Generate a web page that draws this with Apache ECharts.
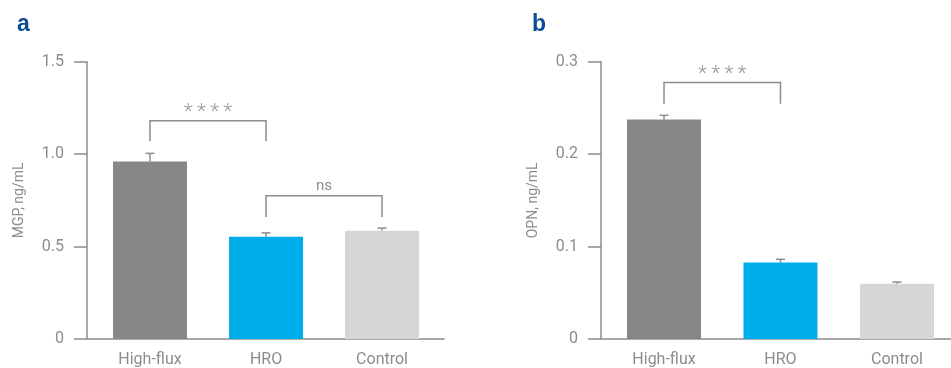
<!DOCTYPE html>
<html>
<head>
<meta charset="utf-8">
<script src="https://cdn.jsdelivr.net/npm/echarts@6/dist/echarts.min.js"></script>
<style>html,body{margin:0;padding:0;background:#fff}#c{width:951px;height:368px}</style>
</head>
<body>
<div id="c"></div>
<script>
var categories = ['High-flux', 'HRO', 'Control'];
var barColors = ['#888689', '#00adeb', '#d7d6d7'];
// panel a: MGP
var mgpValues = [0.96, 0.553, 0.585];
var mgpErrTop = [1.004, 0.574, 0.600];
var mgpTicks = [0, 0.5, 1.0, 1.5];
// brackets: [fromCat, toCat, barY, legY, label]
var mgpBrackets = [[0, 1, 1.18, 1.07, '*\u2009*\u2009*\u2009*'], [1, 2, 0.775, 0.66, 'ns']];
// panel b: OPN
var opnValues = [0.2374, 0.0827, 0.0598];
var opnErrTop = [0.242, 0.0862, 0.0616];
var opnTicks = [0, 0.1, 0.2, 0.3];
var opnBrackets = [[0, 1, 0.2775, 0.2545, '*\u2009*\u2009*\u2009*']];

var FONT = 'Roboto, "Liberation Sans", sans-serif';
var GRAY = '#8c8c8c';

var chart = echarts.init(document.getElementById('c'), null, {renderer: 'canvas'});

function yAx(idx, name, max, ticks) {
  return {
    type: 'value', gridIndex: idx, min: 0, max: max, interval: ticks[1] - ticks[0],
    name: name, nameLocation: 'middle', nameGap: 61, nameRotate: 90,
    nameTextStyle: {color: GRAY, fontSize: 14, fontFamily: FONT},
    axisLine: {show: true, onZero: false, lineStyle: {color: GRAY, width: 1.5}},
    axisTick: {show: true, inside: false, length: 13, lineStyle: {color: GRAY, width: 1.5}},
    axisLabel: {color: GRAY, fontSize: 16, fontFamily: FONT, margin: 23,
      formatter: function (v) { return v === 0 ? '0' : v.toFixed(1); }},
    splitLine: {show: false}
  };
}
function xAx(idx, mn, mx) {
  return {
    type: 'value', gridIndex: idx, min: mn, max: mx,
    axisLine: {show: true, onZero: false, lineStyle: {color: GRAY, width: 1.5}},
    axisTick: {show: false},
    splitLine: {show: false},
    axisLabel: {color: GRAY, fontSize: 16, fontFamily: FONT, margin: 13,
      customValues: [0, 1, 2],
      formatter: function (v) { return categories[Math.round(v)] || ''; }}
  };
}
function errSeries(idx, tops, vals) {
  return {
    type: 'custom', xAxisIndex: idx, yAxisIndex: idx, z: 1,
    data: tops.map(function (t, i) { return [i, vals[i], t]; }),
    renderItem: function (params, api) {
      var p0 = api.coord([api.value(0), api.value(1)]);
      var p1 = api.coord([api.value(0), api.value(2)]);
      return {type: 'group', children: [
        {type: 'line', shape: {x1: p0[0], y1: p0[1], x2: p1[0], y2: p1[1]}, style: {stroke: GRAY, lineWidth: 1.5}},
        {type: 'line', shape: {x1: p1[0] - 4.5, y1: p1[1], x2: p1[0] + 4.5, y2: p1[1]}, style: {stroke: GRAY, lineWidth: 1.5}}
      ]};
    }
  };
}
function bracketSeries(idx, brackets) {
  return {
    type: 'custom', xAxisIndex: idx, yAxisIndex: idx, z: 3,
    data: brackets.map(function (b) { return [b[0], b[1], b[2], b[3]]; }),
    renderItem: function (params, api) {
      var b = brackets[params.dataIndex];
      var a = api.coord([api.value(0), api.value(2)]);
      var c = api.coord([api.value(1), api.value(2)]);
      var l = api.coord([api.value(0), api.value(3)]);
      var isStar = b[4].indexOf('*') >= 0;
      return {type: 'group', children: [
        {type: 'polyline', shape: {points: [[a[0], l[1]], [a[0], a[1]], [c[0], c[1]], [c[0], l[1]]]},
          style: {stroke: GRAY, lineWidth: 1.5, fill: null}},
        {type: 'text', style: {text: b[4], x: (a[0] + c[0]) / 2, y: a[1] - (isStar ? 8 : 9),
          textAlign: 'center', textVerticalAlign: 'middle', fill: isStar ? '#9a9a9a' : GRAY,
          font: (isStar ? '300 21px ' : '15px ') + FONT}}
      ]};
    }
  };
}
function barSeries(idx, vals) {
  return {
    type: 'bar', xAxisIndex: idx, yAxisIndex: idx, barWidth: 74, z: 2,
    data: vals.map(function (v, i) { return {value: [i, v], itemStyle: {color: barColors[i]}}; })
  };
}

chart.setOption({
  animation: false,
  title: [
    {text: 'a', left: 12, top: 8, textStyle: {color: '#0a4c97', fontSize: 23, fontWeight: 'bold', fontFamily: '"Liberation Sans", Arial, sans-serif'}},
    {text: 'b', left: 527, top: 8, textStyle: {color: '#0a4c97', fontSize: 23, fontWeight: 'bold', fontFamily: '"Liberation Sans", Arial, sans-serif'}}
  ],
  grid: [
    {left: 87, top: 61.7, width: 357, height: 279.3},
    {left: 601, top: 61.7, width: 350, height: 279.3}
  ],
  xAxis: [xAx(0, -0.543, 2.534), xAx(1, -0.541, 2.464)],
  yAxis: [yAx(0, 'MGP, ng/mL', 1.5, mgpTicks), yAx(1, 'OPN, ng/mL', 0.3, opnTicks)],
  series: [
    errSeries(0, mgpErrTop, mgpValues), barSeries(0, mgpValues), bracketSeries(0, mgpBrackets),
    errSeries(1, opnErrTop, opnValues), barSeries(1, opnValues), bracketSeries(1, opnBrackets)
  ]
});
</script>
</body>
</html>
